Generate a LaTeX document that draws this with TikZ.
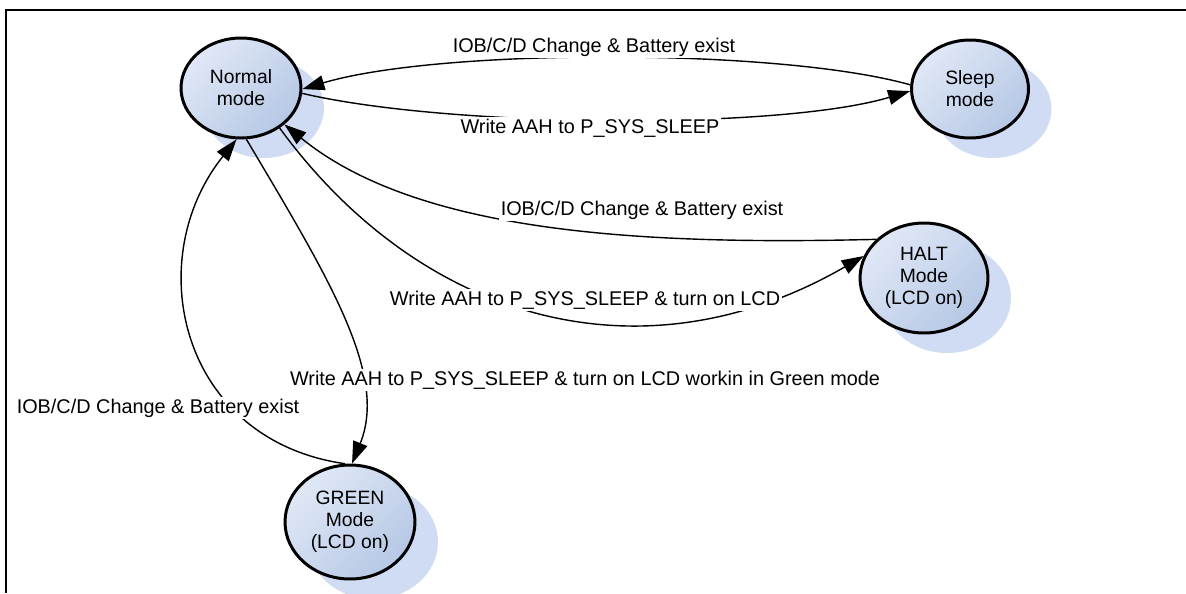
\documentclass[tikz,border=0pt]{standalone}
\usepackage{fontspec}
\setmainfont{Liberation Sans}
\usetikzlibrary{arrows.meta,shapes.geometric,shadows}
\definecolor{ellLight}{RGB}{224,232,246}
\definecolor{ellDark}{RGB}{182,200,229}
\definecolor{shadowc}{RGB}{208,220,243}
\begin{document}
\begin{tikzpicture}[x=0.02cm,y=-0.02cm,
  state/.style={ellipse, draw=black, line width=1.7pt,
    top color=ellLight, bottom color=ellDark, shading angle=45,
    inner sep=0pt, align=center, font=\fontsize{11}{12.5}\selectfont,
    drop shadow={shadow xshift=0.46cm, shadow yshift=-0.4cm, fill=shadowc, opacity=1}},
  trans/.style={line width=0.8pt, -{Triangle[length=12.5pt,width=8.5pt]}},
  lbl/.style={fill=white, inner sep=1pt, font=\fontsize{11.3}{13}\selectfont}]
\useasboundingbox (0,0) rectangle (1186,593);
\fill[white] (0,0) rectangle (1186,593);
% frame
\draw[line width=1pt] (6,593) -- (6,10) -- (1186,10);
% states
\node[state, minimum width=2.4cm, minimum height=2cm] (normal) at (241,88) {Normal\\mode};
\node[state, minimum width=2.34cm, minimum height=1.96cm] (sleep) at (970,89) {Sleep\\mode};
\node[state, minimum width=2.56cm, minimum height=2.2cm] (halt) at (924,278) {HALT\\Mode\\(LCD on)};
\node[state, minimum width=2.6cm, minimum height=2.28cm] (green) at (350,522) {GREEN\\Mode\\(LCD on)};
% transitions
\draw[trans] (sleep.176) .. controls (780,48) and (440,48) .. (normal.-1);
\draw[trans] (normal.-5) .. controls (450,128) and (780,130) .. (sleep.182);
\draw[trans] (halt.141) .. controls (650,245) and (420,235) .. (normal.-40);
\draw[trans] (normal.-46) .. controls (420,320) and (640,385) .. (halt.160);
\draw[trans] (normal.-84) .. controls (330,280) and (388,375) .. (green.88);
\draw[trans] (green.95) .. controls (180,440) and (140,260) .. (normal.-95);
% labels
\node[lbl] (l1) at (594,47) {IOB/C/D Change \& Battery exist};
\node[lbl] (l2) at (590,128) {Write AAH to P\_SYS\_SLEEP};
\node[lbl] (l3) at (642,210) {IOB/C/D Change \& Battery exist};
\node[lbl] (l4) at (585,300) {Write AAH to P\_SYS\_SLEEP \& turn on LCD};
\node[lbl] (l5) at (585,380) {Write AAH to P\_SYS\_SLEEP \& turn on LCD workin in Green mode};
\node[lbl] (l6) at (158,408) {IOB/C/D Change \& Battery exist};
\end{tikzpicture}
\end{document}
